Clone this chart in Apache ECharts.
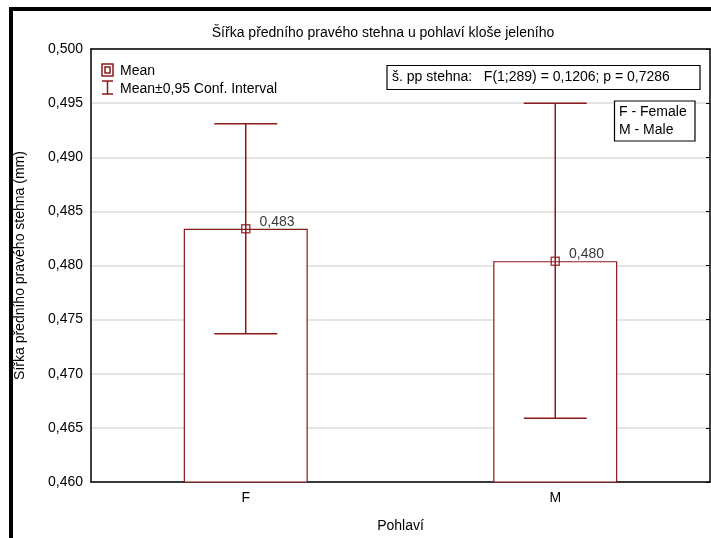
<!DOCTYPE html>
<html><head><meta charset="utf-8">
<script src="https://cdn.jsdelivr.net/npm/echarts@6/dist/echarts.min.js"></script>
<style>html,body{margin:0;padding:0;background:#fff}#c{width:711px;height:538px}</style>
</head><body><div id="c"></div>
<script>
var categories = ['F', 'M'];
var means = [0.4834, 0.4804];
var ciLow = [0.4737, 0.4659];
var ciHigh = [0.4931, 0.4950];
var yMin = 0.46, yMax = 0.50, yStep = 0.005;
var titleText = 'Šířka předního pravého stehna u pohlaví kloše jeleního';
var yName = 'Šířka předního pravého stehna (mm)';
var xName = 'Pohlaví';
var statText = 'š. pp stehna:   F(1;289) = 0,1206; p = 0,7286';
var keyText = 'F - Female\nM - Male';

var RED = '#8b1a1a';
var FONT = '"Liberation Sans", Arial, sans-serif';
var chart = echarts.init(document.getElementById('c'), null, {renderer: 'canvas'});
function fmt(v){ return v.toFixed(3).replace('.', ','); }

var errData = categories.map(function(c, i){ return [i, ciLow[i], ciHigh[i]]; });
var meanData = categories.map(function(c, i){ return [i, means[i]]; });

chart.setOption({
  animation: false,
  backgroundColor: '#fff',
  textStyle: {fontFamily: FONT},
  title: {
    text: titleText, left: 378, top: 21, textAlign: 'center',
    textStyle: {fontFamily: FONT, fontSize: 14, fontWeight: 'normal', color: '#000'}
  },
  grid: {left: 91, right: 1, top: 49, bottom: 56, containLabel: false},
  xAxis: [{
    type: 'category', data: categories, position: 'bottom',
    axisLine: {lineStyle: {color: '#000', width: 1.5}},
    axisTick: {inside: true, alignWithLabel: true, length: 4, lineStyle: {color: '#000'}},
    axisLabel: {fontFamily: FONT, fontSize: 14, color: '#000', margin: 9},
    name: xName, nameLocation: 'middle', nameGap: 37,
    nameTextStyle: {fontFamily: FONT, fontSize: 14, color: '#000'},
    splitLine: {show: false}
  },{
    type: 'category', data: categories, position: 'top',
    axisLine: {lineStyle: {color: '#000', width: 1.5}},
    axisTick: {inside: true, alignWithLabel: true, length: 4, lineStyle: {color: '#000'}},
    axisLabel: {show: false}, splitLine: {show: false}
  }],
  yAxis: [{
    type: 'value', min: yMin, max: yMax, interval: yStep, position: 'left',
    axisLine: {show: true, lineStyle: {color: '#000', width: 1.5}},
    axisTick: {show: false},
    axisLabel: {fontFamily: FONT, fontSize: 14, color: '#000', margin: 8,
      formatter: function(v){ return fmt(v); }},
    splitLine: {show: true, lineStyle: {color: '#dcdcdc', width: 1.5}},
    name: yName, nameLocation: 'middle', nameGap: 64, nameRotate: 90,
    nameTextStyle: {fontFamily: FONT, fontSize: 14, color: '#000'}
  },{
    type: 'value', min: yMin, max: yMax, interval: yStep, position: 'right',
    axisLine: {show: true, lineStyle: {color: '#000', width: 1.5}},
    axisTick: {show: true, inside: true, length: 4, lineStyle: {color: '#000'}},
    axisLabel: {show: false}, splitLine: {show: false}
  }],
  series: [{
    type: 'bar', data: means, barWidth: 124, z: 2,
    itemStyle: {color: '#fff', borderColor: RED, borderWidth: 1.2},
    silent: true
  },{
    type: 'custom', data: errData, z: 3,
    renderItem: function(params, api){
      var x = api.value(0);
      var lo = api.coord([x, api.value(1)]);
      var hi = api.coord([x, api.value(2)]);
      var half = 31.5;
      var st = {stroke: RED, lineWidth: 1.5};
      return {type: 'group', children: [
        {type: 'line', shape: {x1: lo[0], y1: lo[1], x2: hi[0], y2: hi[1]}, style: st},
        {type: 'line', shape: {x1: lo[0]-half, y1: lo[1], x2: lo[0]+half, y2: lo[1]}, style: st},
        {type: 'line', shape: {x1: hi[0]-half, y1: hi[1], x2: hi[0]+half, y2: hi[1]}, style: st}
      ]};
    }
  },{
    type: 'scatter', data: meanData, z: 4,
    symbol: 'rect', symbolSize: 8,
    itemStyle: {color: 'rgba(0,0,0,0)', borderColor: RED, borderWidth: 1.5},
    label: {show: true, position: 'right', distance: 5, offset: [4, -7],
      fontFamily: FONT, fontSize: 14, color: '#000', textBorderWidth: 0,
      formatter: function(p){ return fmt(p.value[1]); }}
  }],
  graphic: [
    {type: 'rect', shape: {x: 11, y: 9, width: 900, height: 700}, style: {fill: 'none', stroke: '#000', lineWidth: 4}, z: 100},
    {type: 'rect', shape: {x: 102, y: 64, width: 11, height: 12}, style: {fill: 'none', stroke: RED, lineWidth: 1.5}},
    {type: 'rect', shape: {x: 105, y: 67, width: 5, height: 6}, style: {fill: 'none', stroke: RED, lineWidth: 1.5}},
    {type: 'line', shape: {x1: 107.5, y1: 81, x2: 107.5, y2: 94}, style: {stroke: RED, lineWidth: 1.5}},
    {type: 'line', shape: {x1: 102, y1: 81, x2: 113, y2: 81}, style: {stroke: RED, lineWidth: 1.5}},
    {type: 'line', shape: {x1: 102, y1: 94, x2: 113, y2: 94}, style: {stroke: RED, lineWidth: 1.5}},
    {type: 'text', x: 120, y: 71, style: {text: 'Mean', font: '14px ' + FONT, fill: '#000', textVerticalAlign: 'middle'}},
    {type: 'text', x: 120, y: 89, style: {text: 'Mean±0,95 Conf. Interval', font: '14px ' + FONT, fill: '#000', textVerticalAlign: 'middle'}},
    {type: 'rect', shape: {x: 387, y: 65.5, width: 313, height: 24}, style: {fill: '#fff', stroke: '#000', lineWidth: 1.2}, z: 50},
    {type: 'text', x: 392, y: 77.5, z: 51, style: {text: statText, font: '14px ' + FONT, fill: '#000', textVerticalAlign: 'middle'}},
    {type: 'rect', shape: {x: 614.5, y: 101, width: 80.5, height: 40}, style: {fill: '#fff', stroke: '#000', lineWidth: 1.2}, z: 50},
    {type: 'text', x: 619, y: 121, z: 51, style: {text: keyText, font: '14px ' + FONT, lineHeight: 18, fill: '#000', textVerticalAlign: 'middle'}}
  ]
});
</script></body></html>
